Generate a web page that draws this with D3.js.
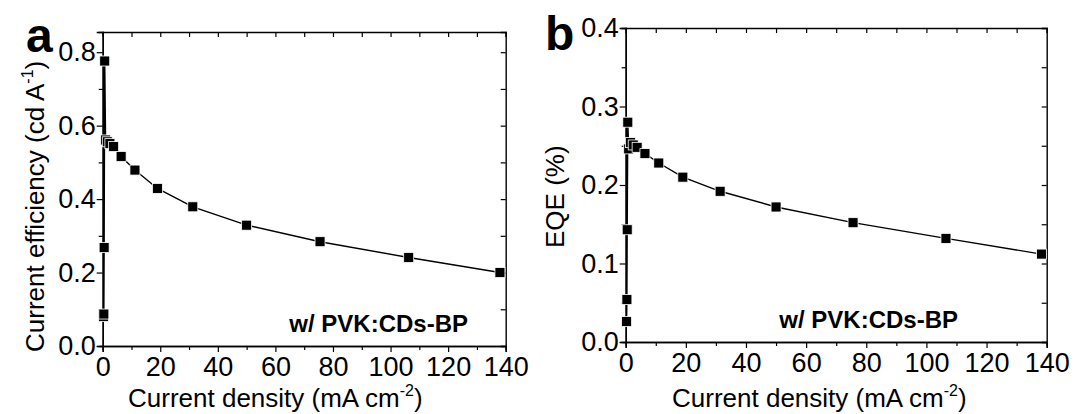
<!DOCTYPE html>
<html>
<head>
<meta charset="utf-8">
<script src="https://cdn.jsdelivr.net/npm/d3@7"></script>
<style>
  html, body { margin: 0; padding: 0; background: #fff; }
  svg { display: block; }
  text { font-family: "Liberation Sans", Arial, sans-serif; fill: #000; }
</style>
</head>
<body>
<svg id="chart" width="1075" height="414"></svg>
<script>
// ---- data ----
const currentDensityA = [0.3, 0.4, 0.5, 0.7, 1.0, 1.6, 2.5, 3.8, 6.4, 11.2, 19.0, 31.3, 50.0, 75.5, 106.3, 138.0];
const efficiencyA     = [0.080, 0.087, 0.268, 0.776, 0.561, 0.556, 0.551, 0.543, 0.516, 0.479, 0.429, 0.379, 0.329, 0.284, 0.241, 0.200];

const currentDensityB = [0.3, 0.4, 0.5, 0.7, 1.0, 1.6, 2.5, 3.8, 6.4, 11.0, 19.0, 31.4, 50.0, 75.6, 106.5, 138.3];
const eqeB            = [0.026, 0.054, 0.143, 0.280, 0.246, 0.254, 0.251, 0.248, 0.240, 0.228, 0.210, 0.192, 0.172, 0.152, 0.132, 0.112];

const xTicks = [0, 20, 40, 60, 80, 100, 120, 140];
const xMinor = [10, 30, 50, 70, 90, 110, 130];
const yTicksA = [0.0, 0.2, 0.4, 0.6, 0.8];
const yMinorA = [0.1, 0.3, 0.5, 0.7];
const yTicksB = [0.0, 0.1, 0.2, 0.3, 0.4];
const yMinorB = [0.05, 0.15, 0.25, 0.35];

const labelA = "a", labelB = "b";
const sampleLabel = "w/ PVK:CDs-BP";

const svg = d3.select("#chart");

function panel(cfg) {
  const x = d3.scaleLinear().domain([0, 140]).range([cfg.left, cfg.right]);
  const y = d3.scaleLinear().domain(cfg.yDomain).range([cfg.bottom, cfg.top]);
  const g = svg.append("g");

  const allY = cfg.yTicks.concat(cfg.yMinor);
  const allX = xTicks.concat(xMinor);
  g.append("g").attr("transform", `translate(0,${cfg.top})`)
    .call(d3.axisBottom(x).tickValues(allX).tickSize(5).tickFormat(""));
  g.append("g").attr("transform", `translate(${cfg.right},0)`)
    .call(d3.axisLeft(y).tickValues(allY).tickSize(5).tickFormat(""));

  g.append("g").attr("transform", `translate(0,${cfg.bottom})`)
    .call(d3.axisBottom(x).tickValues(xMinor).tickSize(4).tickFormat(""));
  g.append("g").attr("class", "xl").attr("transform", `translate(0,${cfg.bottom})`)
    .call(d3.axisBottom(x).tickValues(xTicks).tickSize(6).tickPadding(3).tickFormat(d3.format("d")));

  g.append("g").attr("transform", `translate(${cfg.left},0)`)
    .call(d3.axisLeft(y).tickValues(cfg.yMinor).tickSize(4).tickFormat(""));
  g.append("g").attr("class", "yl").attr("transform", `translate(${cfg.left},0)`)
    .call(d3.axisLeft(y).tickValues(cfg.yTicks).tickSize(6).tickPadding(1).tickFormat(d3.format(".1f")));

  g.selectAll(".domain").attr("stroke", "#000").attr("stroke-width", 1.4);
  g.selectAll(".tick line").attr("stroke", "#000").attr("stroke-width", 1.2);
  g.selectAll(".tick text").style("font-size", "27px").attr("fill", "#000")
    .style("font-family", "'Liberation Sans', Arial, sans-serif");
  g.selectAll(".xl .tick text").attr("dy", "0.78em");

  const pts = cfg.xs.map((d, i) => [d, cfg.ys[i]]);
  g.append("path").datum(pts)
    .attr("fill", "none").attr("stroke", "#000").attr("stroke-width", 1.4)
    .attr("d", d3.line().x(d => x(d[0])).y(d => y(d[1])));
  const ms = 10;
  g.selectAll("rect.m").data(pts).join("rect").attr("class", "m")
    .attr("x", d => x(d[0]) - ms / 2).attr("y", d => y(d[1]) - ms / 2)
    .attr("width", ms).attr("height", ms)
    .attr("fill", "#000").attr("stroke", "#fff").attr("stroke-width", 0.8);

  g.append("text").attr("x", cfg.letterX).attr("y", cfg.letterY)
    .style("font-size", "48px").style("font-weight", "bold").text(cfg.letter);

  g.append("text").attr("x", cfg.noteX).attr("y", cfg.noteY)
    .attr("text-anchor", "end")
    .style("font-size", "24px").style("font-weight", "bold").text(sampleLabel);

  const xt = g.append("text").attr("x", cfg.xtX).attr("y", 407).style("font-size", "26px");
  xt.append("tspan").text("Current density (mA cm");
  xt.append("tspan").attr("dy", -11).style("font-size", "16px").text("-2");
  xt.append("tspan").attr("dy", 11).text(")");

  const yt = g.append("text")
    .attr("transform", `translate(${cfg.ytX},${cfg.ytY}) rotate(-90)`)
    .style("font-size", "26px");
  cfg.yTitle(yt);
}

panel({
  left: 102.7, right: 505.7, top: 32, bottom: 346, yDomain: [0, 0.855],
  yTicks: yTicksA, yMinor: yMinorA, xs: currentDensityA, ys: efficiencyA,
  letter: labelA, letterX: 26, letterY: 52,
  noteX: 468, noteY: 332, xtX: 128, ytX: 44, ytY: 352,
  yTitle: t => {
    t.append("tspan").text("Current efficiency (cd A");
    t.append("tspan").attr("dy", -11).style("font-size", "16px").text("-1");
    t.append("tspan").attr("dy", 11).text(")");
  }
});

panel({
  left: 625.7, right: 1046.7, top: 28, bottom: 342, yDomain: [0, 0.4],
  yTicks: yTicksB, yMinor: yMinorB, xs: currentDensityB, ys: eqeB,
  letter: labelB, letterX: 545, letterY: 50,
  noteX: 958, noteY: 328, xtX: 672, ytX: 564, ytY: 248,
  yTitle: t => { t.append("tspan").text("EQE (%)"); }
});
</script>
</body>
</html>
